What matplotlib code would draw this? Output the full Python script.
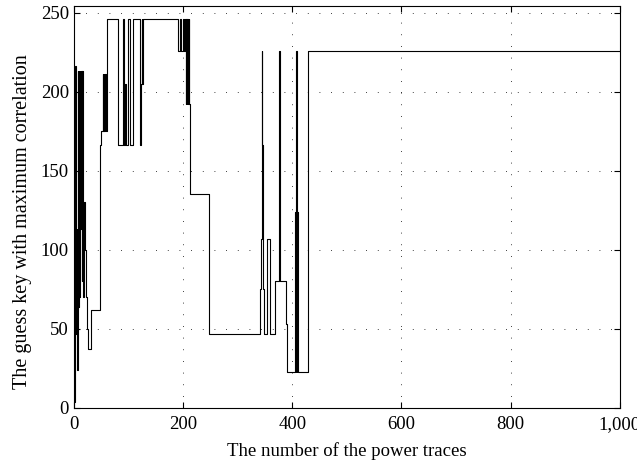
import matplotlib
matplotlib.use("Agg")
import matplotlib.pyplot as plt
from matplotlib.ticker import FuncFormatter

# trace number where the guessed key changes, and the new guessed key
trace_idx = [0, 2, 3, 4, 5, 6, 7, 8, 9, 10, 11, 12, 13, 14, 15, 16, 17, 18, 20,
             22, 24, 26, 31, 48, 50, 53, 54, 55, 56, 57, 58, 60, 81, 90, 92, 94,
             95, 100, 102, 108, 121, 123, 124, 125, 126, 191, 194, 196, 199, 201,
             203, 205, 206, 207, 208, 209, 210, 211, 212, 247, 340, 342, 344, 345,
             346, 347, 349, 353, 360, 369, 375, 376, 377, 378, 388, 390, 405, 406,
             407, 408, 409, 410, 428, 1000]
guess_key = [4, 216, 113, 47, 113, 24, 213, 64, 213, 70, 213, 113, 213, 80, 213,
             130, 70, 130, 100, 70, 50, 37, 62, 166, 175, 211, 175, 211, 175, 211,
             175, 246, 166, 246, 166, 205, 166, 246, 166, 246, 166, 205, 246, 205,
             246, 226, 246, 226, 246, 226, 246, 192, 246, 192, 246, 192, 246, 192,
             135, 47, 75, 107, 226, 166, 107, 75, 47, 107, 47, 80, 153, 226, 153,
             80, 53, 23, 124, 23, 226, 23, 124, 23, 226, 226]

x_ticks = [0, 200, 400, 600, 800, 1000]
y_ticks = [0, 50, 100, 150, 200, 250]

plt.rcParams['font.family'] = ['Liberation Serif', 'DejaVu Serif']

fig = plt.figure(figsize=(6.37, 4.65), dpi=100)
ax = fig.add_axes([0.116, 0.1226, 0.857, 0.864])

ax.step(trace_idx, guess_key, where='post', color='black', linewidth=0.8)

ax.set_xlim(0, 1000)
ax.set_ylim(0, 254)
ax.set_xticks(x_ticks)
ax.set_yticks(y_ticks)
ax.xaxis.set_major_formatter(FuncFormatter(lambda v, p: f"{int(v):,}"))

ax.grid(True, color='black', linestyle=(0, (1, 13)), linewidth=0.6)
ax.tick_params(direction='in', top=True, right=True, length=4, labelsize=13.5)
ax.tick_params(axis='x', pad=6)
for s in ax.spines.values():
    s.set_linewidth(0.8)

ax.set_xlabel("The number of the power traces", fontsize=13.5)
ax.set_ylabel("The guess key with maximum correlation", fontsize=14.5)
ax.xaxis.set_label_coords(0.5, -0.085)
ax.yaxis.set_label_coords(-0.077, 0.465)

fig.savefig("out.png", dpi=100)
